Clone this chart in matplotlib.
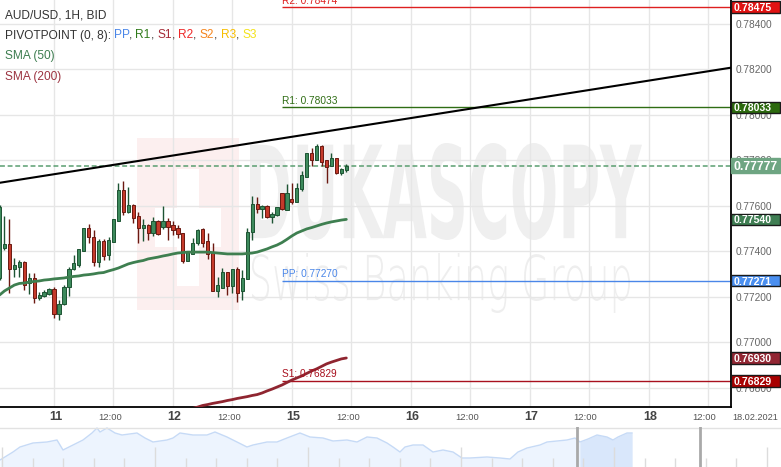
import numpy as np
import matplotlib
matplotlib.use("Agg")
import matplotlib.pyplot as plt
import matplotlib.transforms as mtransforms
from matplotlib.patches import Rectangle, PathPatch
from matplotlib.textpath import TextPath
from matplotlib.font_manager import FontProperties

plt.rcParams['font.family'] = ['Liberation Sans', 'DejaVu Sans']

# ---------------- data ----------------
hours = np.arange(-11, 60)  # trading-hour index, 0 = 11 Feb 00:00

open_ = [0.77282, 0.77414, 0.77432, 0.77322, 0.77330, 0.77352, 0.77260, 0.77282, 0.77194, 0.77203, 0.77212,
         0.77234, 0.77124, 0.77168, 0.77242, 0.77322, 0.77339, 0.77401, 0.77502, 0.77463, 0.77352,
         0.77445, 0.77383, 0.77441, 0.77533, 0.77669, 0.77573, 0.77603, 0.77555, 0.77502, 0.77515,
         0.77480, 0.77533, 0.77507, 0.77533, 0.77515, 0.77502, 0.77480, 0.77357, 0.77388, 0.77436,
         0.77498, 0.77445, 0.77392, 0.77225, 0.77238, 0.77308, 0.77247, 0.77322, 0.77225, 0.77278,
         0.77485, 0.77608, 0.77586, 0.77599, 0.77551, 0.77559, 0.77656, 0.77581, 0.77630, 0.77617,
         0.77674, 0.77727, 0.77832, 0.77801, 0.77863, 0.77801, 0.77775, 0.77810, 0.77744, 0.77757]
high = [0.77603, 0.77555, 0.77542, 0.77370, 0.77361, 0.77357, 0.77304, 0.77304, 0.77220, 0.77229, 0.77238,
        0.77242, 0.77185, 0.77251, 0.77330, 0.77383, 0.77410, 0.77502, 0.77520, 0.77493, 0.77454,
        0.77454, 0.77463, 0.77542, 0.77700, 0.77709, 0.77683, 0.77608, 0.77573, 0.77542, 0.77520,
        0.77551, 0.77537, 0.77599, 0.77546, 0.77533, 0.77515, 0.77480, 0.77396, 0.77458, 0.77498,
        0.77502, 0.77480, 0.77436, 0.77286, 0.77326, 0.77308, 0.77322, 0.77330, 0.77317, 0.77502,
        0.77643, 0.77639, 0.77603, 0.77603, 0.77573, 0.77595, 0.77656, 0.77696, 0.77700, 0.77700,
        0.77753, 0.77832, 0.77854, 0.77872, 0.77867, 0.77801, 0.77832, 0.77810, 0.77766, 0.77784]
low = [0.77273, 0.77405, 0.77216, 0.77286, 0.77286, 0.77229, 0.77212, 0.77172, 0.77185, 0.77198, 0.77207,
       0.77106, 0.77097, 0.77163, 0.77203, 0.77317, 0.77330, 0.77401, 0.77436, 0.77335, 0.77330,
       0.77361, 0.77361, 0.77441, 0.77533, 0.77559, 0.77568, 0.77524, 0.77436, 0.77445, 0.77449,
       0.77467, 0.77471, 0.77498, 0.77449, 0.77471, 0.77458, 0.77348, 0.77357, 0.77388, 0.77427,
       0.77419, 0.77366, 0.77225, 0.77198, 0.77238, 0.77207, 0.77216, 0.77176, 0.77185, 0.77278,
       0.77449, 0.77568, 0.77546, 0.77546, 0.77524, 0.77555, 0.77581, 0.77581, 0.77608, 0.77617,
       0.77665, 0.77727, 0.77775, 0.77801, 0.77775, 0.77700, 0.77775, 0.77740, 0.77735, 0.77749]
close = [0.77595, 0.77432, 0.77322, 0.77339, 0.77352, 0.77251, 0.77282, 0.77194, 0.77207, 0.77220, 0.77234,
         0.77124, 0.77168, 0.77242, 0.77322, 0.77348, 0.77410, 0.77502, 0.77463, 0.77352, 0.77445,
         0.77379, 0.77449, 0.77542, 0.77669, 0.77573, 0.77603, 0.77546, 0.77502, 0.77515, 0.77480,
         0.77533, 0.77476, 0.77533, 0.77507, 0.77493, 0.77476, 0.77357, 0.77396, 0.77436, 0.77493,
         0.77436, 0.77388, 0.77225, 0.77251, 0.77308, 0.77247, 0.77322, 0.77216, 0.77282, 0.77485,
         0.77608, 0.77586, 0.77599, 0.77551, 0.77564, 0.77595, 0.77586, 0.77656, 0.77617, 0.77678,
         0.77735, 0.77832, 0.77801, 0.77863, 0.77793, 0.77771, 0.77810, 0.77744, 0.77762, 0.77777]

sma50 = [0.77207, 0.77225, 0.77238, 0.77251, 0.77258, 0.77260, 0.77264, 0.77267, 0.77269, 0.77273, 0.77275,
         0.77278, 0.77280, 0.77282, 0.77286, 0.77289, 0.77291, 0.77295, 0.77297, 0.77300, 0.77304,
         0.77306, 0.77313, 0.77319, 0.77326, 0.77335, 0.77344, 0.77350, 0.77355, 0.77359, 0.77366,
         0.77370, 0.77374, 0.77379, 0.77383, 0.77388, 0.77392, 0.77394, 0.77396, 0.77396, 0.77396,
         0.77396, 0.77396, 0.77394, 0.77392, 0.77390, 0.77388, 0.77388, 0.77388, 0.77388, 0.77390,
         0.77392, 0.77396, 0.77403, 0.77410, 0.77419, 0.77427, 0.77438, 0.77452, 0.77467, 0.77480,
         0.77489, 0.77498, 0.77504, 0.77511, 0.77518, 0.77524, 0.77529, 0.77533, 0.77537, 0.77540]

sma200_hours = np.arange(28, 60)
sma200 = [0.76708, 0.76714,
          0.76721, 0.76725, 0.76730, 0.76734, 0.76738, 0.76743, 0.76747, 0.76752, 0.76756, 0.76760,
          0.76765, 0.76769, 0.76776, 0.76785, 0.76793, 0.76802, 0.76811, 0.76822, 0.76833, 0.76842,
          0.76851, 0.76862, 0.76873, 0.76882, 0.76893, 0.76904, 0.76912, 0.76919, 0.76926, 0.76930]

trend_hours = [-11, 137]
trend_prices = [0.77701, 0.78209]

current_price = 0.77777

pivot_start = 46
pivot_names = ['R2', 'R1', 'PP', 'S1']
pivot_values = [0.78474, 0.78033, 0.77270, 0.76829]
pivot_colors = ['#de2020', '#2f6d14', '#4a86e8', '#a8101e']

tag_values = [0.78475, 0.78033, 0.77777, 0.77540, 0.77271, 0.76930, 0.76829]
tag_labels = ['0.78475', '0.78033', '0.77777', '0.77540', '0.77271', '0.76930', '0.76829']
tag_faces = ['#e01212', '#2c6a0e', '#6ea582', '#3f7e53', '#4a8ff0', '#922633', '#a80000']

x_tick_pos = [0, 12, 24, 36, 48, 60, 72, 84, 96, 108, 120, 132]
x_tick_labels = ['11', '12:00', '12', '12:00', '15', '12:00', '16', '12:00', '17', '12:00', '18', '12:00']
y_ticks = [0.768, 0.770, 0.772, 0.774, 0.776, 0.778, 0.780, 0.782, 0.784]

nav_x = [0, 13, 20, 33, 47, 57, 63, 73, 83, 92, 97, 100, 107, 115, 122, 137, 145, 153, 167, 173,
         180, 193, 207, 215, 227, 237, 247, 253, 267, 277, 287, 300, 310, 323, 333, 347, 357, 367, 377, 387,
         393, 400, 405, 413, 423, 433, 443, 453, 462, 470, 487, 500, 510, 518, 527, 540, 547, 557, 567, 575,
         580, 588, 597, 607, 613, 618, 627, 632]
nav_h = [7, 15, 20, 24, 25, 27, 17, 22, 27, 34, 39, 35, 39, 34, 32, 34, 29, 25, 27, 29,
         34, 32, 32, 35, 30, 25, 20, 22, 25, 25, 29, 34, 30, 29, 26, 27, 25, 30, 29, 24,
         20, 15, 20, 22, 22, 15, 17, 15, 9, 9, 10, 9, 8, 15, 19, 22, 25, 26, 27, 29,
         25, 28, 32, 30, 27, 30, 34, 34]

# ---------------- figure ----------------
W, H = 781, 467
fig = plt.figure(figsize=(W / 100, H / 100), dpi=100)
fig.patch.set_facecolor('white')
ident = mtransforms.IdentityTransform()

ax = fig.add_axes([0, (H - 407) / H, 731 / W, 407 / H])
ax.set_zorder(1)
ax.patch.set_alpha(0)
ax.set_xlim(-10.9, 136.64)
ax.set_ylim(0.767143, 0.785056)


def px(yt):
    return H - yt


# watermark
fig.add_artist(Rectangle((137, px(310)), 102, 172, facecolor='#fcefef', edgecolor='none',
                         transform=ident, zorder=0.2))
fig.add_artist(Rectangle((177, px(286)), 22, 117, facecolor='white', edgecolor='none',
                         transform=ident, zorder=0.3))
fig.add_artist(Rectangle((155, px(247)), 66, 39, facecolor='white', edgecolor='none',
                         transform=ident, zorder=0.3))


def fit_text(s, box, color, weight):
    tp = TextPath((0, 0), s, size=100, prop=FontProperties(family='DejaVu Sans', weight=weight))
    bb = tp.get_extents()
    x0, y0, x1, y1 = box
    tr = mtransforms.Affine2D().translate(-bb.x0, -bb.y0).scale((x1 - x0) / bb.width,
                                                                 (y1 - y0) / bb.height).translate(x0, y0)
    fig.add_artist(PathPatch(tp, transform=tr, facecolor=color, edgecolor='none', zorder=0.25))


fit_text('DUKASCOPY', (250, px(240), 642, px(143)), '#efefef', 'bold')
fit_text('Swiss Banking Group', (252, px(313), 630, px(253)), '#eeeeee', 'light')

# grid / axes styling
ax.set_xticks(x_tick_pos)
ax.set_yticks(y_ticks)
ax.grid(True, color='#e6e6e6', lw=1)
ax.set_axisbelow(True)
ax.tick_params(axis='x', length=0, labelbottom=False)
ax.yaxis.tick_right()
ax.tick_params(axis='y', length=0, labelright=True, labelleft=False, pad=3.6,
               labelsize=7.3, labelcolor='#666666')
ax.set_yticklabels([f'{v:.5f}' for v in y_ticks])
for s in ['left', 'top']:
    ax.spines[s].set_visible(False)
for s in ['right', 'bottom']:
    ax.spines[s].set_color('black')
    ax.spines[s].set_linewidth(1.3)

# candles
o = np.array(open_); h = np.array(high); l = np.array(low); c = np.array(close)
up = c >= o
face = np.where(up, '#3d8a5c', '#c53a2b')
edge = np.where(up, '#1d5433', '#6b1911')
ax.vlines(hours, l, h, colors=edge, lw=1.0, zorder=3)
ax.bar(hours, np.maximum(np.abs(c - o), 0.00002), bottom=np.minimum(o, c), width=0.66,
       color=face, edgecolor=edge, linewidth=0.7, zorder=4)

# indicators
ax.plot(hours, sma50, color='#3e7f50', lw=2.0, zorder=5, solid_capstyle='round')
ax.plot(sma200_hours, sma200, color='#8f2530', lw=2.0, zorder=5, solid_capstyle='round')
ax.plot(trend_hours, trend_prices, color='black', lw=1.5, zorder=6)
ax.axhline(current_price, color='#5a9e70', lw=1.1, ls=(0, (3.2, 1.8)), zorder=2)

lbl_tr = mtransforms.offset_copy(ax.transData, fig=fig, x=0.5, y=1.5, units='dots')
for name, val, col in zip(pivot_names, pivot_values, pivot_colors):
    ax.hlines(val, pivot_start, 140, color=col, lw=1.0, zorder=2)
    ax.text(pivot_start, val, f'{name}: {val:.5f}', transform=lbl_tr, color=col, fontsize=7.3,
            ha='left', va='bottom', clip_on=True, zorder=6)

# x labels
blend = mtransforms.blended_transform_factory(ax.transData, ident)
for pos, lab in zip(x_tick_pos, x_tick_labels):
    if ':' in lab:
        tr = mtransforms.offset_copy(blend, fig=fig, x=-3.5, y=0, units='dots')
        ax.text(pos, px(417), lab, transform=tr, ha='center', va='center', fontsize=6.8,
                color='#555555', clip_on=False)
    else:
        tr = mtransforms.offset_copy(blend, fig=fig, x=1.5, y=0, units='dots')
        ax.text(pos, px(417), lab, transform=tr, ha='center', va='center', fontsize=9,
                fontweight='bold', color='#444444', clip_on=False)
fig.text(755, px(417), '18.02.2021', transform=ident, ha='center', va='center', fontsize=6.6,
         color='#555555')

# price tags on the right
for val, lab, fc in zip(tag_values, tag_labels, tag_faces):
    ypix = ax.transData.transform((0, val))[1]
    big = lab == '0.77777'
    hh = 15 if big else 11.5
    ec = fc if big else '#1a1a1a'
    fig.add_artist(Rectangle((731, ypix - hh / 2), 49, hh, facecolor=fc, edgecolor=ec, lw=1,
                             transform=ident, zorder=5))
    fig.text(733.5, ypix, lab, transform=ident, ha='left', va='center_baseline',
             fontsize=8.8 if big else 7.6, fontweight='bold', color='white', zorder=6)

# legend texts top-left
renderer = fig.canvas.get_renderer()
fp = FontProperties(family=['Liberation Sans', 'DejaVu Sans'], size=8.6)


def tw(s):
    return renderer.get_text_width_height_descent(s, fp, ismath=False)[0]


base = '#333333'
fig.text(5, px(16), 'AUD/USD, 1H, BID', transform=ident, fontproperties=fp, color=base,
         ha='left', va='center', zorder=6)
parts = [('PIVOTPOINT (0, 8):', base), (' ', None), ('PP', '#4a86e8'), (',', base), (' ', None),
         ('R1', '#2f7a1a'), (',', base), (' ', None), ('S1', '#a52a36'), (',', base), (' ', None),
         ('R2', '#ee2a2a'), (',', base), (' ', None), ('S2', '#f5851e'), (',', base), (' ', None),
         ('R3', '#f7be00'), (',', base), (' ', None), ('S3', '#f3e21a')]
acc = ''
for s, col in parts:
    acc += s
    if col is None:
        continue
    x = 5 + tw(acc) - tw(s)
    fig.text(x, px(35.5), s, transform=ident, fontproperties=fp, color=col,
             ha='left', va='center', zorder=6)
fig.text(5, px(56.5), 'SMA (50)', transform=ident, fontproperties=fp, color='#3d7d50',
         ha='left', va='center', zorder=6)
fig.text(5, px(77), 'SMA (200)', transform=ident, fontproperties=fp, color='#9b3340',
         ha='left', va='center', zorder=6)

# navigator
nav = fig.add_axes([0, 0, 1, 40 / H])
nav.set_xlim(0, W)
nav.set_ylim(0, 40)
nav.axis('off')
nx = np.array(nav_x, dtype=float)
nh = np.array(nav_h, dtype=float)
nav.fill_between(nx, 0, nh, color='#edf4fe', lw=0, zorder=1)
nav.fill_between(nx, 0, nh, where=nx >= 577, interpolate=True, color='#d9e7fb', lw=0, zorder=1.5)
nav.plot(nx, nh, color='#c6daf6', lw=1.0, zorder=2)
for i in range(26):
    xp = 2 + i * 30.6
    nav.vlines(xp, 0, 20 if i % 5 == 0 else 9, color='#dcdcdc', lw=1, zorder=3)
nav.axhline(39.5, color='#e2e2e2', lw=1, zorder=3)
for xp in (577, 700):
    nav.axvline(xp, color='#a9a9a9', lw=2, zorder=4)

fig.savefig('out.png', dpi=100)
